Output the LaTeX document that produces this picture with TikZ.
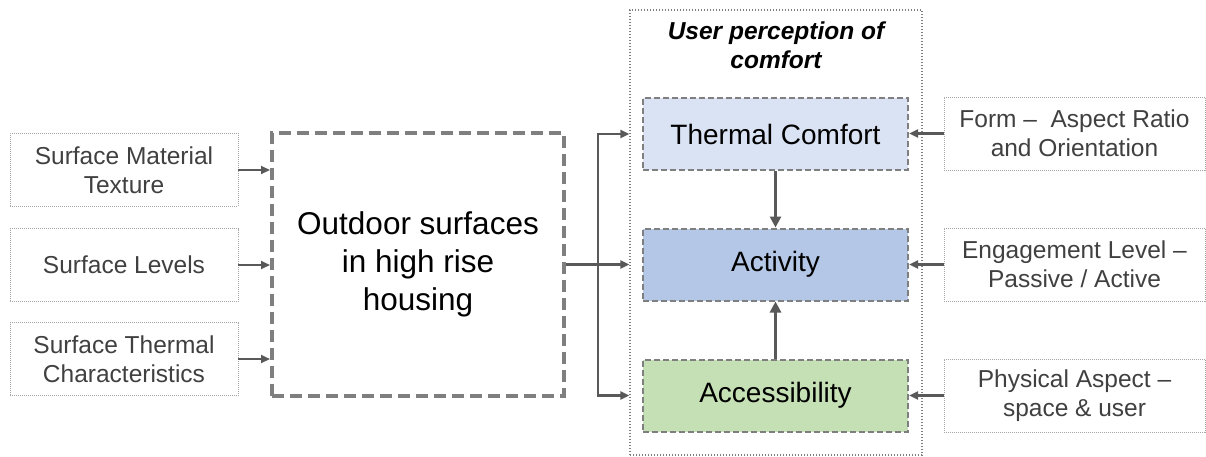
\documentclass[tikz,border=0pt]{standalone}
\usepackage{fontspec}
\setmainfont{Liberation Sans}
\usetikzlibrary{arrows.meta,calc}
\definecolor{txtgrey}{HTML}{404040}
\definecolor{lightline}{HTML}{A6A6A6}
\definecolor{midline}{HTML}{7F7F7F}
\definecolor{arrowgrey}{HTML}{595959}
\definecolor{tcfill}{HTML}{DAE3F3}
\definecolor{actfill}{HTML}{B4C7E7}
\definecolor{accfill}{HTML}{C5E0B4}
\tikzset{
  factor/.style={draw=lightline, line width=0.9pt, dash pattern=on 1pt off 1pt,
    minimum height=73pt, inner sep=0pt, align=center, text=txtgrey,
    font=\fontsize{24.5}{29}\selectfont},
  core/.style={draw=midline, line width=4pt, dash pattern=on 12pt off 6pt,
    minimum width=292pt, minimum height=263pt, align=center, text=black,
    font=\fontsize{31.5}{38}\selectfont},
  percept/.style={draw=midline, line width=2pt, dash pattern=on 6pt off 3pt,
    minimum width=265pt, minimum height=72pt, inner sep=0pt, text=black,
    font=\fontsize{28}{33}\selectfont},
  frame/.style={draw=midline, line width=1.4pt, dash pattern=on 1.4pt off 1.6pt,
    minimum width=292pt, minimum height=445pt, inner sep=0pt},
  arr/.style={draw=arrowgrey, line width=2.2pt,
    -{Triangle[length=9pt,width=8pt]}},
  thickarr/.style={draw=arrowgrey, line width=3.5pt,
    -{Triangle[length=11pt,width=11pt]}},
}
\begin{document}
\begin{tikzpicture}[x=1pt,y=-1pt]
\useasboundingbox (0,0) rectangle (1206,457);

% surrounding frame and its title
\node[frame] (cont) at (776,232.5) {};
\node[font=\fontsize{24.5}{29}\selectfont\bfseries\itshape, align=center]
  (title) at (776,45) {User perception of\\comfort};

% input factors on the left
\node[factor, minimum width=228pt] (l1) at (124,170) {Surface Material\\Texture};
\node[factor, minimum width=228pt] (l2) at (124,265) {Surface Levels};
\node[factor, minimum width=228pt] (l3) at (124,359) {Surface Thermal\\Characteristics};

% central element
\node[core] (big) at (418,264.5) {Outdoor surfaces\\in high rise\\housing};

% perception boxes
\node[percept, fill=tcfill] (tc) at (775.5,134) {Thermal Comfort};
\node[percept, fill=actfill] (act) at (775.5,264.5) {Activity};
\node[percept, fill=accfill] (acc) at (775.5,395.5) {Accessibility};

% modifiers on the right
\node[factor, minimum width=261pt] (r1) at (1074.5,133.5) {Form – \ Aspect Ratio\\and Orientation};
\node[factor, minimum width=261pt] (r2) at (1074.5,264.5) {Engagement Level –\\Passive / Active};
\node[factor, minimum width=261pt] (r3) at (1074.5,395.5) {Physical Aspect –\\space \& user};

% factors into the central element
\draw[arr] (l1.east) -- (l1.east -| big.west);
\draw[arr] (l2.east) -- (l2.east -| big.west);
\draw[arr] (l3.east) -- (l3.east -| big.west);

% central element into the perception frame
\coordinate (j) at (598,264.5);
\draw[arr] (big.east) -- (cont.west |- act.west);
\draw[arr] (j) |- (cont.west |- tc.west);
\draw[arr] (j) |- (cont.west |- acc.west);

% links inside the frame
\draw[thickarr] (tc.south) -- (act.north);
\draw[thickarr] (acc.north) -- (act.south);

% modifiers into perception boxes
\draw[arr] (r1.west) -- (r1.west -| tc.east);
\draw[arr] (r2.west) -- (r2.west -| act.east);
\draw[arr] (r3.west) -- (r3.west -| acc.east);
\end{tikzpicture}
\end{document}
